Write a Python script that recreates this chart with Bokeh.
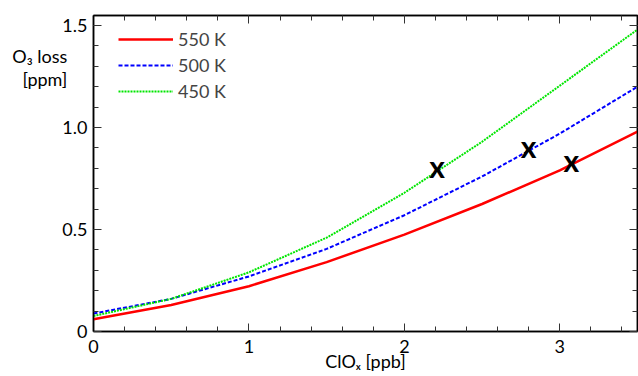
from bokeh.plotting import figure
from bokeh.models import (LinearAxis, FixedTicker, Range1d, Legend, LegendItem)
from bokeh.core.properties import value
from bokeh.embed import file_html
from bokeh.resources import INLINE

clox = [0, 0.5, 1.0, 1.5, 2.0, 2.5, 3.0, 3.5]
loss_550 = [0.060, 0.130, 0.222, 0.340, 0.475, 0.625, 0.790, 0.980]
loss_500 = [0.088, 0.160, 0.270, 0.405, 0.570, 0.760, 0.970, 1.200]
loss_450 = [0.076, 0.160, 0.290, 0.460, 0.680, 0.930, 1.205, 1.480]
obs_x = [2.21, 2.80, 3.075]
obs_y = [0.79, 0.89, 0.82]
series_labels = ["550 K", "500 K", "450 K"]
x_ticks = [0, 1, 2, 3]
y_ticks = [0, 0.5, 1.0, 1.5]
x_title = "ClOₓ [ppb]"
y_title = "O₃ loss\n[ppm]"

FONT = "Lato, 'Noto Sans', 'DejaVu Sans'"
FS = "18px"

p = figure(width=638, height=376, output_backend="svg", toolbar_location=None,
           x_range=Range1d(0, 3.5), y_range=Range1d(0, 1.549),
           min_border_left=93, min_border_right=1, min_border_top=15, min_border_bottom=45,
           x_axis_location=None, y_axis_location=None)
p.xgrid.visible = False
p.ygrid.visible = False
p.outline_line_color = "black"
p.outline_line_width = 1.5

def make_axis(ticks, minor, labels=True, fmt=None):
    ax = LinearAxis(ticker=FixedTicker(ticks=ticks, minor_ticks=minor))
    ax.major_tick_in = 8
    ax.major_tick_out = 0
    ax.minor_tick_in = 5
    ax.minor_tick_out = 0
    ax.axis_line_color = "black"
    ax.axis_line_width = 1.5
    ax.major_tick_line_color = "#333333"
    ax.minor_tick_line_color = "#333333"
    ax.major_label_text_font = FONT
    ax.major_label_text_font_size = FS
    ax.major_label_text_color = "black"
    ax.axis_label_text_font = FONT
    ax.axis_label_text_font_size = FS
    ax.axis_label_text_font_style = "normal"
    ax.axis_label_text_color = "black"
    if not labels:
        ax.major_label_text_alpha = 0
        ax.major_label_text_font_size = "1px"
    if fmt:
        ax.major_label_overrides = fmt
    return ax

xminor = [round(0.2 * i, 2) for i in range(0, 18)]
yminor = [round(0.1 * i, 2) for i in range(0, 16)]

bx = make_axis(x_ticks, xminor)
bx.major_label_standoff = 8
bx.axis_label = x_title
bx.axis_label_standoff = -6
p.add_layout(bx, "below")
tx = make_axis(x_ticks, xminor, labels=False)
p.add_layout(tx, "above")
ly = make_axis(y_ticks, yminor, fmt={0: "0", 0.5: "0.5", 1: "1.0", 1.5: "1.5"})
ly.major_label_standoff = 6
ly.axis_label = y_title + "\n" * 9
ly.axis_label_orientation = "horizontal"
ly.axis_label_text_align = "left"
ly.axis_label_text_line_height = 1.07
ly.axis_label_standoff = -8
p.add_layout(ly, "left")
ry = make_axis(y_ticks, yminor, labels=False)
p.add_layout(ry, "right")

r550 = p.line(clox, loss_550, line_color="#ff0000", line_width=2.5)
r500 = p.line(clox, loss_500, line_color="#0000ff", line_width=2, line_dash="4 2")
r450 = p.line(clox, loss_450, line_color="#00e600", line_width=2, line_dash="2 1")

p.text(x=obs_x, y=obs_y, text=["x"] * len(obs_x), text_font=value("Lato"),
       text_font_style="bold", text_font_size="30px", text_align="center",
       text_baseline="middle", y_offset=-4, text_color="black")

legend = Legend(items=[LegendItem(label=series_labels[0], renderers=[r550]),
                       LegendItem(label=series_labels[1], renderers=[r500]),
                       LegendItem(label=series_labels[2], renderers=[r450])],
                location=(25, 229))
legend.glyph_width = 55
legend.glyph_height = 20
legend.label_height = 20
legend.spacing = 4
legend.padding = 0
legend.margin = 0
legend.label_standoff = 5
legend.border_line_alpha = 0
legend.background_fill_alpha = 0
legend.label_text_font = FONT
legend.label_text_font_size = FS
p.add_layout(legend, "center")

open("out.html", "w").write(file_html(p, INLINE))
